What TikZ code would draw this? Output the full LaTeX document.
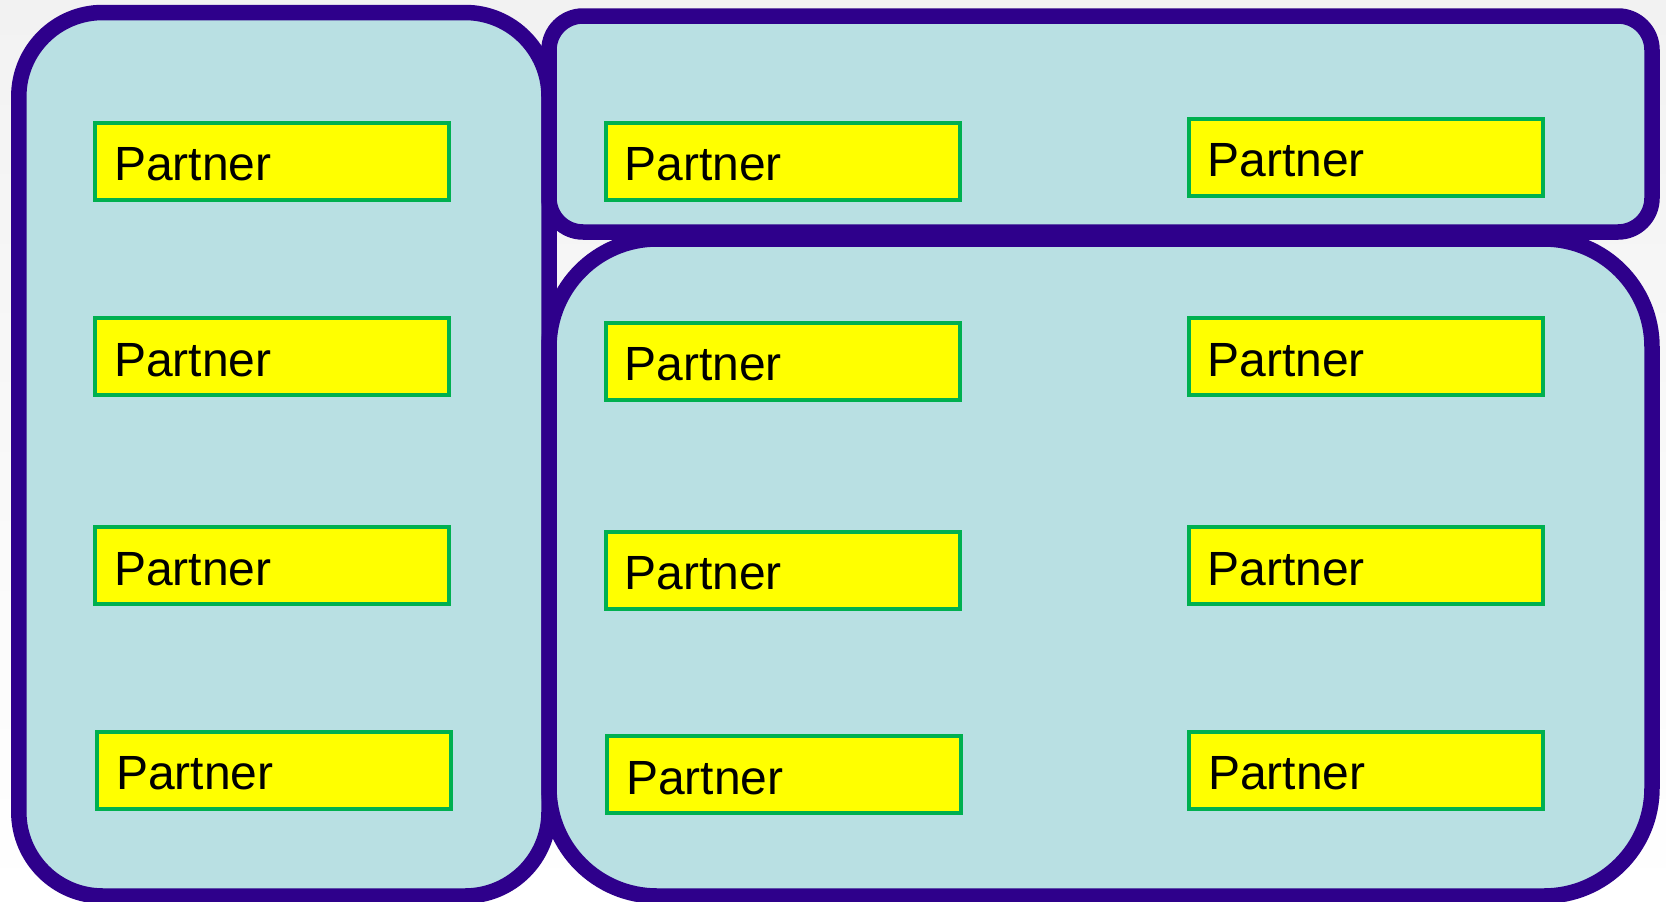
\documentclass[tikz,border=0pt]{standalone}
\usepackage{fontspec}
\setmainfont{Liberation Sans}
\definecolor{framepurple}{RGB}{46,0,139}
\definecolor{framefill}{RGB}{185,224,227}
\definecolor{boxgreen}{RGB}{0,176,80}
\definecolor{boxyellow}{RGB}{255,255,0}
\definecolor{bgtop}{RGB}{242,242,242}
\begin{document}
\begin{tikzpicture}[x=1pt,y=-1pt,
  frame/.style={draw=framepurple, line width=15.5pt, fill=framefill},
  partnerbox/.style={draw=boxgreen, fill=boxyellow, line width=4pt,
    minimum width=354pt, minimum height=77pt, text width=316pt,
    inner xsep=19pt, inner ysep=0pt, align=left,
    text height=39pt, text depth=0pt,
    font=\fontsize{48}{56}\selectfont, text=black}]
\clip (0,0) rectangle (1666,902);
\useasboundingbox (0,0) rectangle (1666,902);
\shade[top color=bgtop, bottom color=white] (0,0) rectangle (1666,902);
% frames
\draw[frame, rounded corners=84pt] (18.8,12.5) rectangle (549,896);
\draw[frame, rounded corners=108pt] (549,239) rectangle (1652,896);
\draw[frame, rounded corners=34pt] (549,16) rectangle (1652,232);
% left column
\node[partnerbox] (l1) at (272,161) {Partner};
\node[partnerbox] (l2) at (272,356.5) {Partner};
\node[partnerbox] (l3) at (272,565.8) {Partner};
\node[partnerbox] (l4) at (274,770.3) {Partner};
% middle column
\node[partnerbox] (m1) at (782.5,161.2) {Partner};
\node[partnerbox] (m2) at (782.5,361.3) {Partner};
\node[partnerbox] (m3) at (782.5,570) {Partner};
\node[partnerbox] (m4) at (784,774.6) {Partner};
% right column
\node[partnerbox] (r1) at (1365.5,157.3) {Partner};
\node[partnerbox] (r2) at (1365.5,356.5) {Partner};
\node[partnerbox] (r3) at (1365.5,565.8) {Partner};
\node[partnerbox] (r4) at (1366,770.3) {Partner};
\end{tikzpicture}
\end{document}
